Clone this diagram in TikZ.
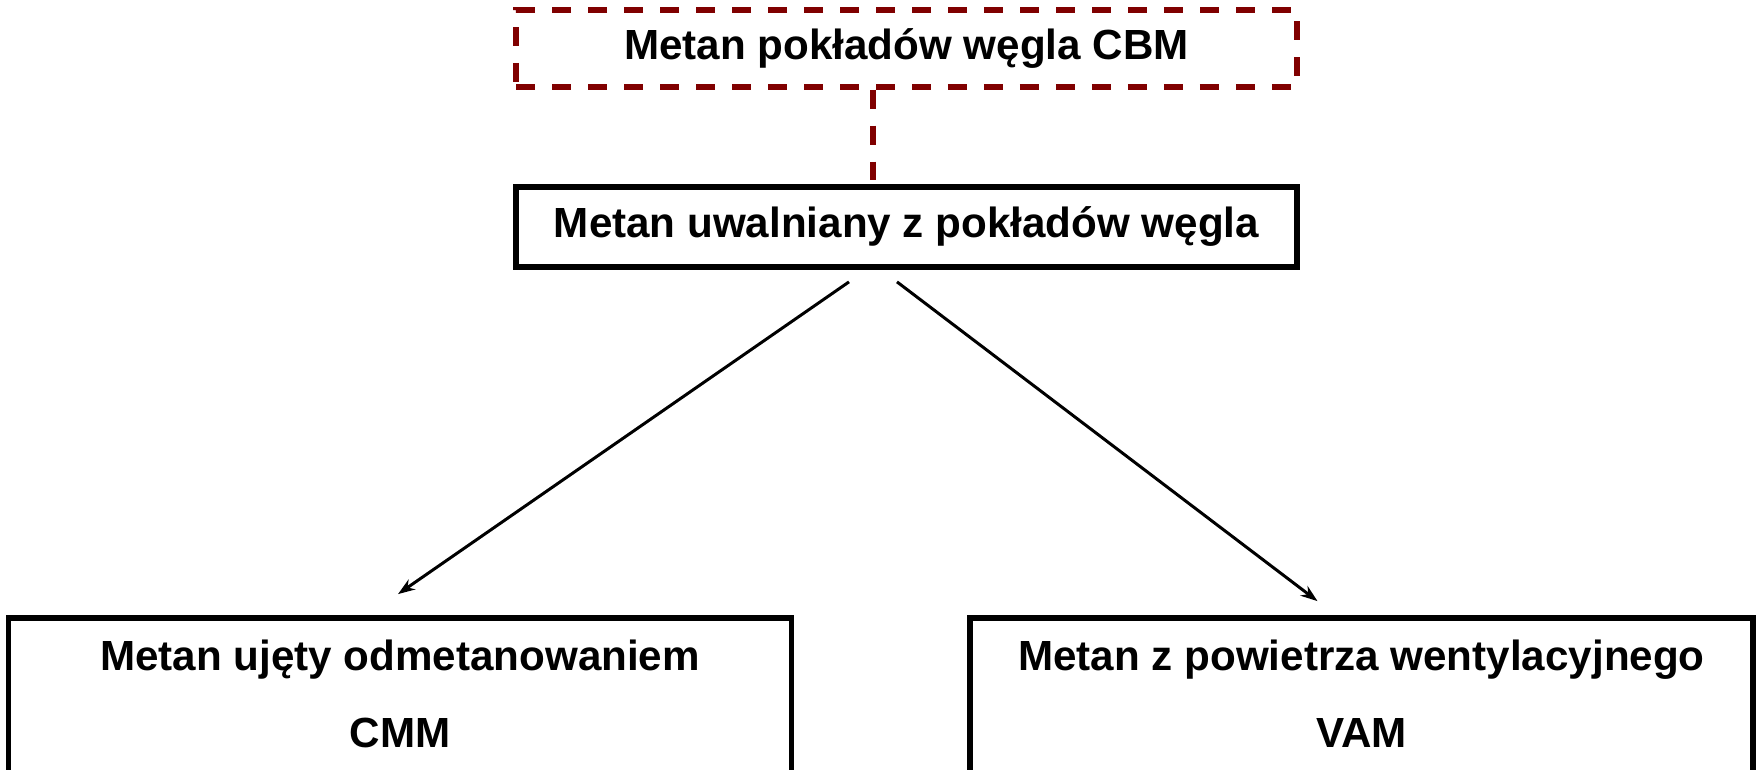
\documentclass[tikz,border=0pt]{standalone}
\usepackage{fontspec}
\setmainfont{Liberation Sans}
\usetikzlibrary{arrows.meta,calc}
\definecolor{cbmred}{RGB}{128,0,0}

\begin{document}
\begin{tikzpicture}[x=0.02cm, y=-0.02cm]
   \tikzstyle{every node}=[font=\bfseries\fontsize{24}{44}\selectfont, align=center, inner sep=0pt]
   \tikzstyle{box}=[draw, line width=3.3pt, minimum width=15.62cm, minimum height=1.6cm]
   \tikzstyle{cbmdash}=[cbmred, line width=3pt, dash pattern=on 0.38cm off 0.34cm]
   \tikzstyle{dashbox}=[draw, cbmdash, text=black, minimum width=15.62cm, minimum height=1.54cm]
   \tikzstyle{bigbox}=[box, minimum width=15.66cm, minimum height=3.2cm, text depth=5pt]
   \tikzstyle{arr}=[-{Stealth[length=0.34cm, width=0.24cm]}, line width=1.7pt]

\useasboundingbox (0,0) rectangle (1756,770);
\clip (0,0) rectangle (1756,770);

\node[dashbox] (cbm) at (906.5,48.5) {Metan pokładów węgla CBM};
\node[box] (uwal) at (906.5,227) {Metan uwalniany z pokładów węgla};
\node[bigbox] (cmm) at (400,698) {Metan ujęty odmetanowaniem\\CMM};
\node[bigbox] (vam) at (1361.5,698) {Metan z powietrza wentylacyjnego\\VAM};

\draw[cbmdash] ($(cbm.south)+(-33.5,0)$) -- ($(uwal.north)+(-33.5,-4)$);
\draw[arr] ($(uwal.south)+(-57.5,12)$) -- ($(cmm.north)+(-2,-21)$);
\draw[arr] ($(uwal.south)+(-9.5,12)$) -- ($(vam.north)+(-44,-14)$);

\end{tikzpicture}
\end{document}
